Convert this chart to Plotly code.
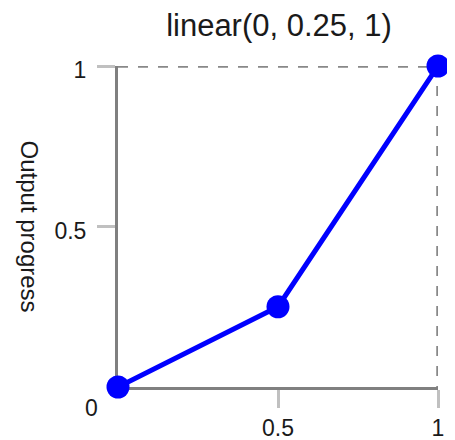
import plotly.graph_objects as go

input_progress = [0, 0.5, 1]
output_progress = [0, 0.25, 1]
x_ticks = [0.5, 1]
y_ticks = [0.5, 1]
title_text = "linear(0, 0.25, 1)"
y_title = "Output progress"

# the page body has an 8px margin, so the figure is shrunk by that much
W, H = 447, 432

x_lo, x_hi = min(input_progress), max(input_progress)
y_lo, y_hi = min(output_progress), max(output_progress)

fig = go.Figure()
# dashed guides from the top of the y range to the end of the x range
fig.add_trace(go.Scatter(
    x=[x_lo, x_hi, x_hi], y=[y_hi, y_hi, y_lo], mode="lines",
    line=dict(color="#888888", width=3.5, dash="10px,10px"),
    cliponaxis=False, hoverinfo="skip",
))
fig.add_trace(go.Scatter(
    x=input_progress, y=output_progress, mode="lines+markers",
    line=dict(color="#0000ff", width=5),
    marker=dict(color="#0000ff", size=23),
    cliponaxis=False, hoverinfo="skip",
))

fig.add_annotation(text="0", x=0, y=0, xref="x", yref="y", showarrow=False,
                   xshift=-27, yshift=-21, font=dict(size=23, color="#1a1a1a"))
fig.add_annotation(text=y_title, x=0, y=0.5, xref="paper", yref="paper",
                   xanchor="center", yanchor="middle", showarrow=False,
                   xshift=-89, textangle=90, font=dict(size=24, color="#1a1a1a"))

fig.update_layout(
    width=W, height=H,
    margin=dict(l=110, r=17, t=58, b=53, autoexpand=False),
    paper_bgcolor="white", plot_bgcolor="white",
    showlegend=False,
    font=dict(family="Liberation Sans, Arial, sans-serif", size=23, color="#1a1a1a"),
    title=dict(text=title_text, x=(279 - 8) / W, xanchor="center",
               y=1 - 17 / H, yanchor="middle",
               font=dict(size=31, color="#1a1a1a")),
    xaxis=dict(range=[0, 1], tickvals=x_ticks, ticktext=["0.5", "1"], automargin=False,
               showgrid=False, zeroline=False, showline=True, linecolor="#808080",
               linewidth=3, ticks="outside", ticklen=18, tickwidth=3, tickcolor="#c0c0c0",
               ticklabelstandoff=0, layer="below traces", fixedrange=True),
    yaxis=dict(range=[0, 1], tickvals=y_ticks, ticktext=["0.5", "1"], automargin=False,
               showgrid=False, zeroline=False, showline=True, linecolor="#808080",
               linewidth=3, ticks="outside", ticklen=18, tickwidth=3, tickcolor="#c0c0c0",
               ticklabelstandoff=6, ticklabelshift=4, layer="below traces", fixedrange=True),
)

fig.write_html("out.html", config={"displayModeBar": False})
